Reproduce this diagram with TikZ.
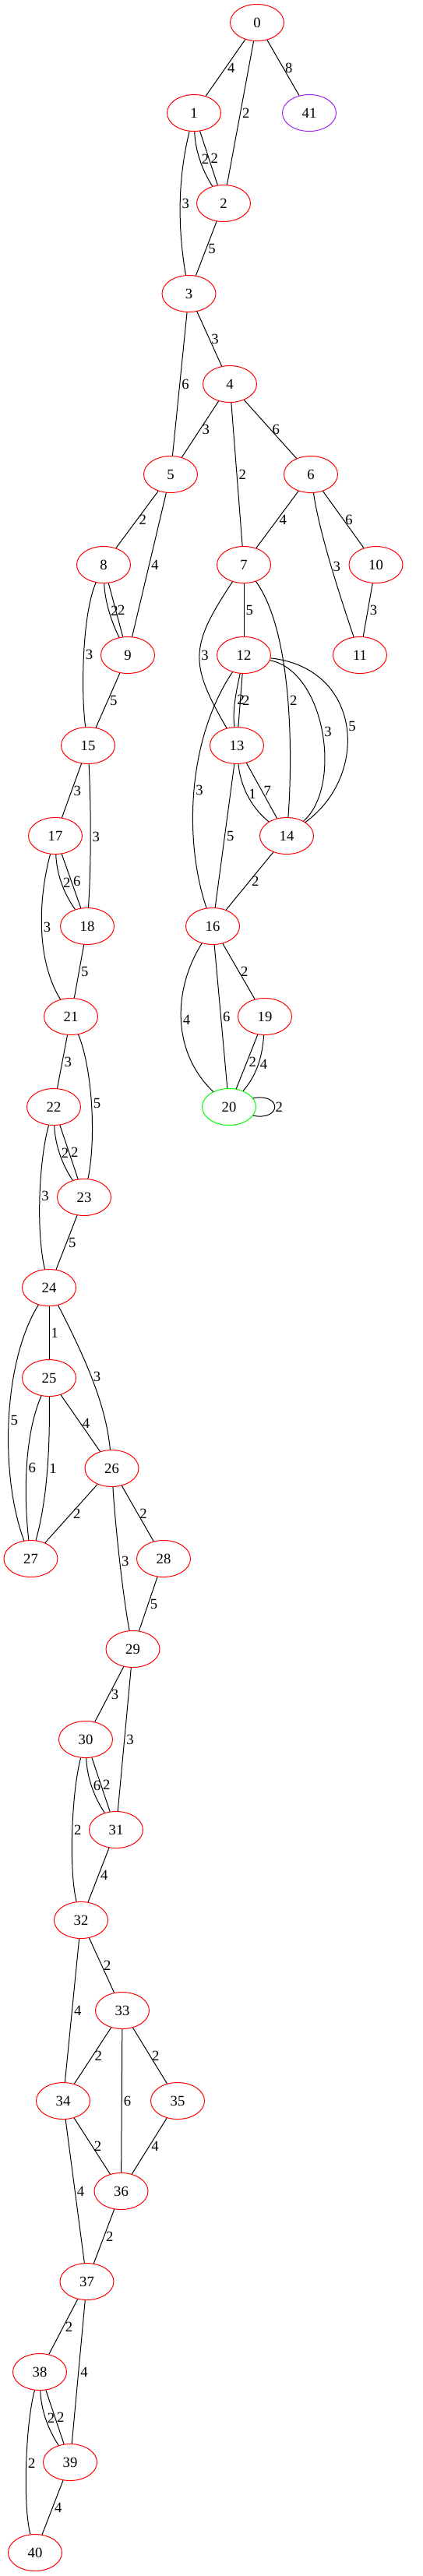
\documentclass[tikz,border=0pt]{standalone}
\usepackage{fontspec}
\setmainfont{Liberation Serif}
\usetikzlibrary{shapes.geometric}
\newlength{\du}
\setlength{\du}{1pt}
\definecolor{vertexred}{rgb}{1.000000, 0.000000, 0.000000}
\definecolor{vertexpurple}{rgb}{0.627451, 0.125490, 0.941176}
\definecolor{vertexgreen}{rgb}{0.000000, 1.000000, 0.000000}
\tikzset{
  vertex/.style={ellipse, draw=vertexred, line width=1.000000\du, minimum width=69.000000\du, minimum height=47.000000\du, inner sep=0pt, font=\fontsize{18.67}{22}\selectfont},
  link/.style={draw=black, line width=1.000000\du},
  weight/.style={midway, anchor=west, inner sep=2.000000\du, font=\fontsize{18.67}{22}\selectfont}
}
\begin{document}
\begin{tikzpicture}
\pgftransformxscale{1.000000}
\pgftransformyscale{-1.000000}
\useasboundingbox (0.000000\du,0.000000\du) rectangle (543.000000\du,3307.000000\du);
% vertices
\node[vertex] (v0) at (330.000000\du,29.000000\du){0};
\node[vertex] (v1) at (249.000000\du,145.000000\du){1};
\node[vertex,draw=vertexpurple] (v41) at (397.000000\du,145.000000\du){41};
\node[vertex] (v2) at (287.000000\du,261.000000\du){2};
\node[vertex] (v3) at (242.500000\du,377.000000\du){3};
\node[vertex] (v4) at (295.000000\du,493.000000\du){4};
\node[vertex] (v5) at (219.000000\du,609.000000\du){5};
\node[vertex] (v6) at (399.000000\du,609.000000\du){6};
\node[vertex] (v8) at (133.000000\du,725.000000\du){8};
\node[vertex] (v7) at (313.000000\du,725.000000\du){7};
\node[vertex] (v10) at (482.500000\du,725.000000\du){10};
\node[vertex] (v9) at (164.000000\du,841.000000\du){9};
\node[vertex] (v12) at (313.000000\du,841.000000\du){12};
\node[vertex] (v11) at (462.000000\du,841.000000\du){11};
\node[vertex] (v15) at (113.000000\du,957.000000\du){15};
\node[vertex] (v13) at (304.000000\du,957.000000\du){13};
\node[vertex] (v17) at (71.000000\du,1073.000000\du){17};
\node[vertex] (v14) at (368.000000\du,1073.000000\du){14};
\node[vertex] (v18) at (112.000000\du,1189.000000\du){18};
\node[vertex] (v16) at (273.000000\du,1189.000000\du){16};
\node[vertex] (v21) at (91.000000\du,1305.000000\du){21};
\node[vertex] (v19) at (340.000000\du,1305.000000\du){19};
\node[vertex] (v22) at (69.000000\du,1421.000000\du){22};
\node[vertex,draw=vertexgreen] (v20) at (294.000000\du,1421.000000\du){20};
\node[vertex] (v23) at (108.000000\du,1537.000000\du){23};
\node[vertex] (v24) at (63.000000\du,1653.000000\du){24};
\node[vertex] (v25) at (63.000000\du,1769.000000\du){25};
\node[vertex] (v26) at (143.500000\du,1885.000000\du){26};
\node[vertex] (v27) at (39.500000\du,2001.000000\du){27};
\node[vertex] (v28) at (210.000000\du,2001.000000\du){28};
\node[vertex] (v29) at (170.500000\du,2117.000000\du){29};
\node[vertex] (v30) at (110.000000\du,2233.000000\du){30};
\node[vertex] (v31) at (149.000000\du,2349.000000\du){31};
\node[vertex] (v32) at (104.000000\du,2465.000000\du){32};
\node[vertex] (v33) at (157.000000\du,2581.000000\du){33};
\node[vertex] (v34) at (81.000000\du,2697.000000\du){34};
\node[vertex] (v35) at (228.000000\du,2697.000000\du){35};
\node[vertex] (v36) at (155.500000\du,2813.000000\du){36};
\node[vertex] (v37) at (111.500000\du,2929.000000\du){37};
\node[vertex] (v38) at (51.000000\du,3045.000000\du){38};
\node[vertex] (v39) at (90.000000\du,3161.000000\du){39};
\node[vertex] (v40) at (45.000000\du,3277.000000\du){40};
% edges
\draw[link] (v0)--node[weight]{4}(v1);
\draw[link] (v0)--node[weight]{2}(v2);
\draw[link] (v0)--node[weight]{8}(v41);
\draw[link] (v1) .. controls (250.500000\du,192.000000\du) and (259.000000\du,218.000000\du) .. node[weight]{2}(v2);
\draw[link] (v1)--node[weight]{2}(v2);
\draw[link] (v1) .. controls (228.000000\du,230.000000\du) and (228.000000\du,292.000000\du) .. node[weight]{3}(v3);
\draw[link] (v2)--node[weight]{5}(v3);
\draw[link] (v3)--node[weight]{3}(v4);
\draw[link] (v3)--node[weight]{6}(v5);
\draw[link] (v4)--node[weight]{3}(v5);
\draw[link] (v4)--node[weight]{2}(v7);
\draw[link] (v4)--node[weight]{6}(v6);
\draw[link] (v5)--node[weight]{2}(v8);
\draw[link] (v5)--node[weight]{4}(v9);
\draw[link] (v6)--node[weight]{4}(v7);
\draw[link] (v6)--node[weight]{6}(v10);
\draw[link] (v6) .. controls (410.000000\du,685.000000\du) and (438.000000\du,770.000000\du) .. node[weight]{3}(v11);
\draw[link] (v8) .. controls (134.500000\du,772.000000\du) and (143.000000\du,798.000000\du) .. node[weight]{2}(v9);
\draw[link] (v8)--node[weight]{2}(v9);
\draw[link] (v8) .. controls (105.000000\du,790.000000\du) and (104.000000\du,892.000000\du) .. node[weight]{3}(v15);
\draw[link] (v7)--node[weight]{5}(v12);
\draw[link] (v7) .. controls (243.000000\du,830.000000\du) and (243.000000\du,852.000000\du) .. node[weight]{3}(v13);
\draw[link] (v7) .. controls (378.000000\du,815.000000\du) and (375.000000\du,984.000000\du) .. node[weight]{2}(v14);
\draw[link] (v10)--node[weight]{3}(v11);
\draw[link] (v9)--node[weight]{5}(v15);
\draw[link] (v12) .. controls (304.000000\du,885.000000\du) and (298.000000\du,910.000000\du) .. node[weight]{2}(v13);
\draw[link] (v12)--node[weight]{2}(v13);
\draw[link] (v12) .. controls (418.000000\du,862.000000\du) and (440.000000\du,1010.000000\du) .. node[weight]{3}(v14);
\draw[link] (v12) .. controls (465.000000\du,858.000000\du) and (475.000000\du,995.000000\du) .. node[weight]{5}(v14);
\draw[link] (v12) .. controls (240.000000\du,950.000000\du) and (236.000000\du,1080.000000\du) .. node[weight]{3}(v16);
\draw[link] (v13) .. controls (308.000000\du,1005.000000\du) and (320.000000\du,1035.000000\du) .. node[weight]{1}(v14);
\draw[link] (v13)--node[weight]{7}(v14);
\draw[link] (v13)--node[weight]{5}(v16);
\draw[link] (v15)--node[weight]{3}(v17);
\draw[link] (v15) .. controls (117.000000\du,1040.000000\du) and (117.000000\du,1110.000000\du) .. node[weight]{3}(v18);
\draw[link] (v14)--node[weight]{2}(v16);
\draw[link] (v17) .. controls (72.500000\du,1120.000000\du) and (81.000000\du,1146.000000\du) .. node[weight]{2}(v18);
\draw[link] (v17)--node[weight]{6}(v18);
\draw[link] (v17) .. controls (50.000000\du,1150.000000\du) and (45.000000\du,1230.000000\du) .. node[weight]{3}(v21);
\draw[link] (v18)--node[weight]{5}(v21);
\draw[link] (v16)--node[weight]{2}(v19);
\draw[link] (v16) .. controls (222.000000\du,1270.000000\du) and (220.000000\du,1350.000000\du) .. node[weight]{4}(v20);
\draw[link] (v16)--node[weight]{6}(v20);
\draw[link] (v19)--node[weight]{2}(v20);
\draw[link] (v19) .. controls (337.000000\du,1355.000000\du) and (330.000000\du,1380.000000\du) .. node[weight]{4}(v20);
\draw[link] (v20.20) .. controls (362.000000\du,1403.000000\du) and (362.000000\du,1439.000000\du) .. node[weight,inner sep=0.5\du]{2}(v20.-20);
\draw[link] (v21)--node[weight]{3}(v22);
\draw[link] (v21) .. controls (118.000000\du,1370.000000\du) and (124.000000\du,1460.000000\du) .. node[weight]{5}(v23);
\draw[link] (v22) .. controls (70.500000\du,1468.000000\du) and (79.000000\du,1494.000000\du) .. node[weight]{2}(v23);
\draw[link] (v22)--node[weight]{2}(v23);
\draw[link] (v22) .. controls (50.000000\du,1490.000000\du) and (46.000000\du,1580.000000\du) .. node[weight]{3}(v24);
\draw[link] (v23)--node[weight]{5}(v24);
\draw[link] (v24)--node[weight]{1}(v25);
\draw[link] (v24) .. controls (105.000000\du,1735.000000\du) and (136.000000\du,1800.000000\du) .. node[weight]{3}(v26);
\draw[link] (v24) .. controls (3.000000\du,1750.000000\du) and (0.000000\du,1895.000000\du) .. node[weight]{5}(v27);
\draw[link] (v25) .. controls (30.000000\du,1845.000000\du) and (31.000000\du,1925.000000\du) .. node[weight]{6}(v27);
\draw[link] (v25) .. controls (64.000000\du,1850.000000\du) and (62.000000\du,1920.000000\du) .. node[weight]{1}(v27);
\draw[link] (v25)--node[weight]{4}(v26);
\draw[link] (v26)--node[weight]{2}(v27);
\draw[link] (v26) .. controls (148.000000\du,1960.000000\du) and (158.000000\du,2050.000000\du) .. node[weight]{3}(v29);
\draw[link] (v26)--node[weight]{2}(v28);
\draw[link] (v28)--node[weight]{5}(v29);
\draw[link] (v29)--node[weight]{3}(v30);
\draw[link] (v29)--node[weight]{3}(v31);
\draw[link] (v30) .. controls (111.500000\du,2280.000000\du) and (120.000000\du,2306.000000\du) .. node[weight]{6}(v31);
\draw[link] (v30)--node[weight]{2}(v31);
\draw[link] (v30) .. controls (92.000000\du,2300.000000\du) and (88.000000\du,2400.000000\du) .. node[weight]{2}(v32);
\draw[link] (v31)--node[weight]{4}(v32);
\draw[link] (v32)--node[weight]{2}(v33);
\draw[link] (v32)--node[weight]{4}(v34);
\draw[link] (v33)--node[weight]{2}(v34);
\draw[link] (v33)--node[weight]{6}(v36);
\draw[link] (v33)--node[weight]{2}(v35);
\draw[link] (v34)--node[weight]{2}(v36);
\draw[link] (v34)--node[weight]{4}(v37);
\draw[link] (v35)--node[weight]{4}(v36);
\draw[link] (v36)--node[weight]{2}(v37);
\draw[link] (v37)--node[weight]{2}(v38);
\draw[link] (v37)--node[weight]{4}(v39);
\draw[link] (v38) .. controls (52.500000\du,3092.000000\du) and (61.000000\du,3118.000000\du) .. node[weight]{2}(v39);
\draw[link] (v38)--node[weight]{2}(v39);
\draw[link] (v38) .. controls (33.000000\du,3110.000000\du) and (29.000000\du,3215.000000\du) .. node[weight]{2}(v40);
\draw[link] (v39)--node[weight]{4}(v40);
\end{tikzpicture}
\end{document}
